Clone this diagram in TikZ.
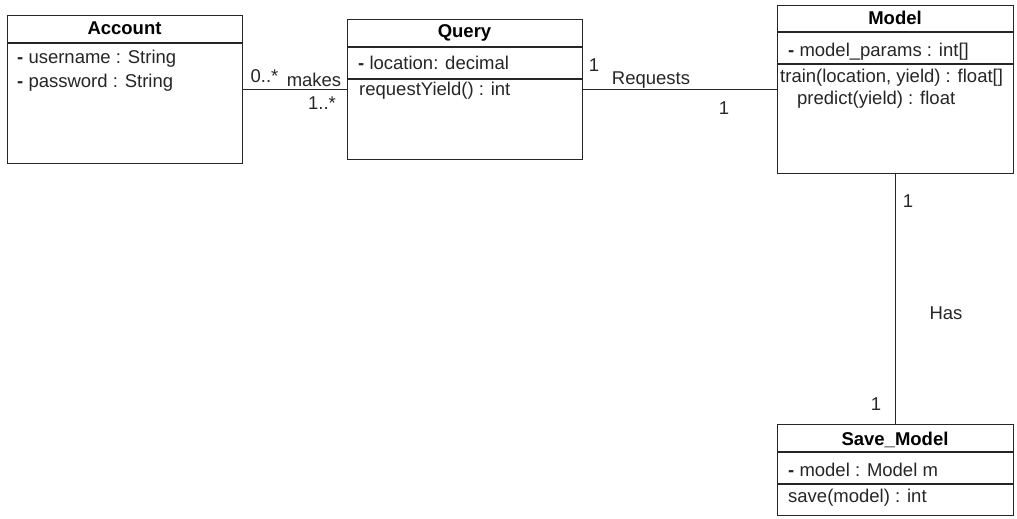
\documentclass[tikz,border=0pt]{standalone}
\usepackage{fontspec}
\setmainfont{Liberation Sans}
\begin{document}
\begin{tikzpicture}[x=1pt,y=-1pt,
  box/.style={draw=black!85,line width=1.3pt,fill=white,anchor=north west,inner sep=0pt},
  divider/.style={draw=black!85,line width=1.3pt},
  conn/.style={draw=black!85,line width=1.3pt},
  txt/.style={anchor=west,inner sep=0pt,font=\fontsize{18.5}{22}\selectfont,text=black!85},
  ttl/.style={anchor=center,inner sep=0pt,font=\fontsize{18.5}{22}\selectfont\bfseries},
  lbl/.style={anchor=center,inner sep=0pt,font=\fontsize{18.5}{22}\selectfont,text=black!85}]
\useasboundingbox (0,0) rectangle (1017,519);
% Account
\node[box,minimum width=235pt,minimum height=148pt] (acc) at (7,15) {};
\draw[divider] (7,43) -- (242,43);
\node[ttl] (accT) at (124.5,28) {Account};
\node[txt] (accA1) at (17,59) {\textbf{-} username : String};
\node[txt] (accA2) at (17,83) {\textbf{-} password : String};
% Query
\node[box,minimum width=235pt,minimum height=140pt] (qry) at (347,19) {};
\draw[divider] (347,47) -- (582,47);
\draw[divider] (347,79) -- (582,79);
\node[ttl] (qryT) at (464.5,33) {Query};
\node[txt] (qryA1) at (358,63) {\textbf{-} location: decimal};
\node[txt] (qryM1) at (359,91) {requestYield() : int};
% Model
\node[box,minimum width=236pt,minimum height=168pt] (mod) at (777,5) {};
\draw[divider] (777,32) -- (1013,32);
\draw[divider] (777,64) -- (1013,64);
\node[ttl] (modT) at (895,18) {Model};
\node[txt] (modA1) at (788,52) {\textbf{-} model\_params : int[]};
\node[txt] (modM1) at (780,78) {train(location, yield) : float[]};
\node[txt] (modM2) at (797,100) {predict(yield) : float};
% Save_Model
\node[box,minimum width=236pt,minimum height=91pt] (sav) at (777,424) {};
\draw[divider] (777,452) -- (1013,452);
\draw[divider] (777,484) -- (1013,484);
\node[ttl] (savT) at (895,440) {Save\_Model};
\node[txt] (savA1) at (788,470) {\textbf{-} model : Model m};
\node[txt] (savM1) at (788,498) {save(model) : int};
% connectors
\draw[conn] (acc.east) -- (qry.west);
\draw[conn] (qry.east) -- (mod.west);
\draw[conn] (mod.south) -- (sav.north);
% labels
\node[lbl] (l1) at (264.5,76) {0..*};
\node[lbl] (l2) at (314,80) {makes};
\node[lbl] (l3) at (322,103) {1..*};
\node[lbl] (l4) at (594,65) {1};
\node[lbl] (l5) at (651,80) {Requests};
\node[lbl] (l6) at (724,108) {1};
\node[lbl] (l7) at (908,201) {1};
\node[lbl] (l8) at (946,313) {Has};
\node[lbl] (l9) at (876,404) {1};
\end{tikzpicture}
\end{document}
